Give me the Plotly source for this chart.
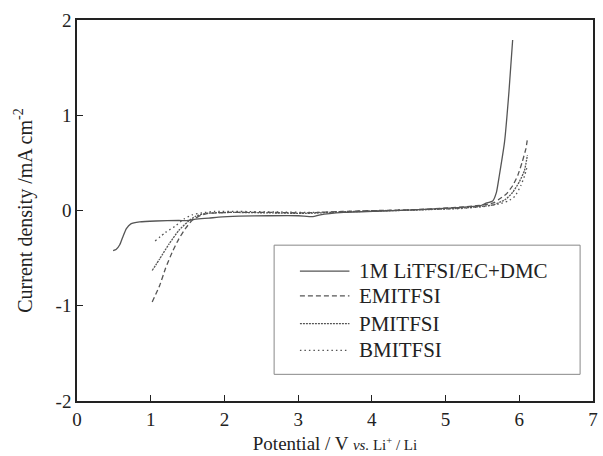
import plotly.graph_objects as go

# ---- data ----
lit_x = [0.49, 0.53, 0.58, 0.62, 0.67, 0.73, 0.85, 1.07, 1.38, 1.52, 1.61, 1.79, 1.92, 2.2, 2.6, 3.0, 3.2, 3.3, 3.62, 4.13, 4.65, 5.17, 5.47, 5.55, 5.64, 5.69, 5.73, 5.80, 5.86, 5.91]
lit_y = [-0.42, -0.41, -0.36, -0.28, -0.19, -0.14, -0.12, -0.11, -0.105, -0.105, -0.09, -0.08, -0.07, -0.06, -0.055, -0.055, -0.065, -0.045, -0.02, -0.005, 0.01, 0.03, 0.05, 0.077, 0.10, 0.19, 0.37, 0.72, 1.25, 1.79]

emi_x = [1.02, 1.12, 1.20, 1.29, 1.38, 1.47, 1.56, 1.68, 1.79, 2.07, 2.6, 3.1, 3.6, 4.1, 4.6, 5.1, 5.42, 5.65, 5.73, 5.82, 5.91, 5.98, 6.04, 6.09, 6.11]
emi_y = [-0.96, -0.79, -0.61, -0.44, -0.30, -0.19, -0.105, -0.05, -0.03, -0.02, -0.02, -0.025, -0.01, 0.0, 0.01, 0.03, 0.05, 0.08, 0.12, 0.17, 0.26, 0.37, 0.51, 0.65, 0.75]

pmi_x = [1.02, 1.12, 1.25, 1.38, 1.50, 1.61, 1.75, 2.07, 2.6, 3.1, 3.6, 4.1, 4.6, 5.1, 5.45, 5.65, 5.73, 5.82, 5.91, 6.0, 6.07, 6.11]
pmi_y = [-0.63, -0.51, -0.35, -0.21, -0.12, -0.06, -0.03, -0.02, -0.025, -0.03, -0.015, -0.005, 0.005, 0.02, 0.04, 0.06, 0.085, 0.12, 0.19, 0.30, 0.42, 0.58]

bmi_x = [1.06, 1.20, 1.34, 1.45, 1.56, 1.70, 1.86, 2.2, 2.7, 3.2, 3.7, 4.2, 4.7, 5.2, 5.5, 5.73, 5.85, 5.94, 6.02, 6.07, 6.11]
bmi_y = [-0.32, -0.23, -0.16, -0.09, -0.045, -0.025, -0.01, -0.01, -0.015, -0.02, -0.01, 0.0, 0.01, 0.02, 0.04, 0.07, 0.10, 0.15, 0.26, 0.36, 0.47]

series_names = ["1M LiTFSI/EC+DMC", "EMITFSI", "PMITFSI", "BMITFSI"]
series_dash = ["solid", "5px,3px", "2px,1px", "1.5px,3px"]

x_ticks = [0, 1, 2, 3, 4, 5, 6, 7]
y_ticks = [-2, -1, 0, 1, 2]
y_ticktext = ["-2", "-1", "0", "1", "2"]

FONT = "Liberation Serif"
LINE = "#555555"

fig = go.Figure()
for xs, ys, name, dash in zip([lit_x, emi_x, pmi_x, bmi_x], [lit_y, emi_y, pmi_y, bmi_y], series_names, series_dash):
    fig.add_trace(go.Scatter(x=xs, y=ys, mode="lines", name=name, showlegend=False,
                             line=dict(color=LINE, width=1.3, dash=dash, shape="spline", smoothing=0.5)))

# legend box drawn manually (paper coordinates)
lx0, lx1, ly0, ly1 = 0.382, 0.975, 0.07, 0.409
fig.add_shape(type="rect", xref="paper", yref="paper", x0=lx0, x1=lx1, y0=ly0, y1=ly1,
              line=dict(color="#888888", width=1), fillcolor="white", layer="above")
row_y = [0.341, 0.276, 0.203, 0.133]
for name, dash, ry in zip(series_names, series_dash, row_y):
    fig.add_shape(type="line", xref="paper", yref="paper", x0=0.432, x1=0.528, y0=ry, y1=ry,
                  line=dict(color=LINE, width=1.3, dash=dash), layer="above")
    fig.add_annotation(xref="paper", yref="paper", x=0.543, y=ry, text=name, showarrow=False,
                       xanchor="left", yanchor="middle", font=dict(family=FONT, size=21, color="#222222"))

fig.update_layout(
    width=603, height=456,
    margin=dict(l=77, r=5, t=20, b=52),
    paper_bgcolor="white", plot_bgcolor="white",
    font=dict(family=FONT, size=19, color="#222222"),
    xaxis=dict(range=[0, 7], tickvals=x_ticks, ticks="inside", ticklen=6, tickcolor="#222222",
               showline=True, linecolor="#222222", linewidth=1.5, mirror=True, showgrid=False, zeroline=False,
               tickfont=dict(size=19),
               title=dict(text='Potential / V <span style="font-size:15px"><i>vs.</i> Li<sup>+</sup> / Li</span>',
                          font=dict(size=19), standoff=8)),
    yaxis=dict(range=[-2, 2], tickvals=y_ticks, ticktext=y_ticktext, ticks="inside", ticklen=6, tickcolor="#222222",
               showline=True, linecolor="#222222", linewidth=1.5, mirror=True, showgrid=False, zeroline=False,
               tickfont=dict(size=19),
               title=dict(text="Current density /mA cm<sup>-2</sup>", font=dict(size=20), standoff=18)),
)

fig.write_html("out.html")
